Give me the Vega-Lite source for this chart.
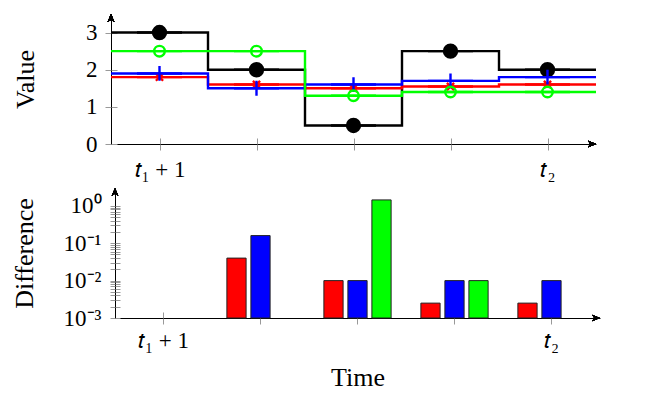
{
  "$schema": "https://vega.github.io/schema/vega-lite/v6.json",
  "padding": {"left": 11, "top": 14, "right": 0, "bottom": 0},
  "background": "white",
  "config": {
    "font": "Liberation Serif",
    "view": {"stroke": null},
    "axis": {
      "labelFont": "Liberation Serif",
      "titleFont": "Liberation Serif",
      "labelFontSize": 23,
      "titleFontSize": 26,
      "titleFontWeight": "normal",
      "labelColor": "black",
      "titleColor": "black",
      "tickColor": "#999999",
      "tickWidth": 1,
      "domainColor": "black",
      "domainWidth": 1,
      "grid": false,
      "labelOverlap": false,
      "labelFlush": false,
      "labelBound": false
    }
  },
  "datasets": {
    "lines": [
      {"t": 0.5, "series": "original", "value": 3},
      {"t": 1, "series": "original", "value": 3},
      {"t": 2, "series": "original", "value": 2},
      {"t": 3, "series": "original", "value": 0.5},
      {"t": 4, "series": "original", "value": 2.5},
      {"t": 5, "series": "original", "value": 2},
      {"t": 5.5, "series": "original", "value": 2},
      {"t": 0.5, "series": "optimal", "value": 1.8},
      {"t": 1, "series": "optimal", "value": 1.8},
      {"t": 2, "series": "optimal", "value": 1.6},
      {"t": 3, "series": "optimal", "value": 1.5},
      {"t": 4, "series": "optimal", "value": 1.55},
      {"t": 5, "series": "optimal", "value": 1.6},
      {"t": 5.5, "series": "optimal", "value": 1.6},
      {"t": 0.5, "series": "pred. 1", "value": 1.9},
      {"t": 1, "series": "pred. 1", "value": 1.9},
      {"t": 2, "series": "pred. 1", "value": 1.5},
      {"t": 3, "series": "pred. 1", "value": 1.6},
      {"t": 4, "series": "pred. 1", "value": 1.7},
      {"t": 5, "series": "pred. 1", "value": 1.8},
      {"t": 5.5, "series": "pred. 1", "value": 1.8},
      {"t": 0.5, "series": "pred. 2", "value": 2.5},
      {"t": 1, "series": "pred. 2", "value": 2.5},
      {"t": 2, "series": "pred. 2", "value": 2.5},
      {"t": 3, "series": "pred. 2", "value": 1.3},
      {"t": 4, "series": "pred. 2", "value": 1.4},
      {"t": 5, "series": "pred. 2", "value": 1.4},
      {"t": 5.5, "series": "pred. 2", "value": 1.4}
    ],
    "diff": [
      {"t": 2, "series": "optimal", "diff": 0.04},
      {"t": 2, "series": "pred. 1", "diff": 0.16},
      {"t": 3, "series": "optimal", "diff": 0.01},
      {"t": 3, "series": "pred. 1", "diff": 0.01},
      {"t": 3, "series": "pred. 2", "diff": 1.44},
      {"t": 4, "series": "optimal", "diff": 0.0025},
      {"t": 4, "series": "pred. 1", "diff": 0.01},
      {"t": 4, "series": "pred. 2", "diff": 0.01},
      {"t": 5, "series": "optimal", "diff": 0.0025},
      {"t": 5, "series": "pred. 1", "diff": 0.01}
    ]
  },
  "bounds": "flush",
  "spacing": 44,
  "vconcat": [
    {
      "width": 485,
      "height": 130,
      "data": {"name": "lines"},
      "layer": [
        {
          "mark": {"type": "line", "interpolate": "step", "strokeWidth": 2.4, "strokeCap": "butt", "strokeJoin": "miter"},
          "encoding": {
            "x": {
              "field": "t", "type": "quantitative",
              "scale": {"domain": [0.5, 5.5], "nice": false, "zero": false},
              "axis": {"orient": "bottom", "values": [1, 2, 3, 4, 5], "title": null, "tickSize": 6,
                "labelBaseline": "alphabetic", "labelPadding": 26,
                "labelExpr": "datum.value == 1 ? '𝑡₁ + 1' : datum.value == 5 ? '𝑡₂' : ''"}
            },
            "y": {
              "field": "value", "type": "quantitative",
              "scale": {"domain": [0, 3.5], "nice": false},
              "axis": {"orient": "left", "values": [0, 1, 2, 3], "title": "Value", "tickSize": 6, "labelPadding": 8,
                "titleX": -78, "titleY": 65, "titleBaseline": "alphabetic", "titleAngle": -90}
            },
            "stroke": {
              "field": "series", "type": "nominal",
              "scale": {"domain": ["original", "optimal", "pred. 1", "pred. 2"], "range": ["#000000", "#ff0000", "#0000ff", "#00ff00"]},
              "legend": null
            }
          }
        },
        {
          "transform": [{"filter": "datum.t % 1 == 0"}],
          "mark": {"type": "point", "filled": false, "size": 2025, "strokeWidth": 2.4, "opacity": 1, "strokeCap": "butt"},
          "encoding": {
            "x": {"field": "t", "type": "quantitative",
              "axis": {"orient": "bottom", "offset": -6, "values": [1, 2, 3, 4, 5], "tickSize": 6, "domain": false, "labels": false, "title": null}},
            "y": {"field": "value", "type": "quantitative",
              "axis": {"orient": "left", "offset": -6, "values": [0, 1, 2, 3], "tickSize": 6, "domain": false, "labels": false, "title": null}},
            "color": {
              "field": "series", "type": "nominal",
              "scale": {"domain": ["original", "optimal", "pred. 1", "pred. 2"], "range": ["#000000", "#ff0000", "#0000ff", "#00ff00"]},
              "legend": {"orient": "none", "legendX": 40, "legendY": -23, "direction": "horizontal", "title": null,
                "symbolSize": 2025, "symbolStrokeWidth": 2.4, "symbolOpacity": 1, "labelFont": "Liberation Serif",
                "labelFontSize": 20, "labelColor": "black", "labelOffset": 7, "columnPadding": 8, "padding": 0}
            },
            "shape": {
              "field": "series", "type": "nominal",
              "scale": {"domain": ["original", "optimal", "pred. 1", "pred. 2"], "range": [
                "M-1,0L1,0M0.289,0A0.289,0.289,0,1,1,-0.289,0A0.289,0.289,0,1,1,0.289,0ZM0.2,0A0.2,0.2,0,1,1,-0.2,0A0.2,0.2,0,1,1,0.2,0ZM0.111,0A0.111,0.111,0,1,1,-0.111,0A0.111,0.111,0,1,1,0.111,0ZM0.031,0A0.031,0.031,0,1,1,-0.031,0A0.031,0.031,0,1,1,0.031,0Z",
                "M-1,0L1,0M-0.16,-0.16L0.16,0.16M-0.16,0.16L0.16,-0.16",
                "M-1,0L1,0M0,-0.33L0,0.33",
                "M-1,0L1,0M0.235,0A0.235,0.235,0,1,1,-0.235,0A0.235,0.235,0,1,1,0.235,0Z"
              ]},
              "legend": {"orient": "none", "legendX": 40, "legendY": -23, "direction": "horizontal", "title": null,
                "symbolSize": 2025, "symbolStrokeWidth": 2.4, "symbolOpacity": 1, "labelFont": "Liberation Serif",
                "labelFontSize": 20, "labelColor": "black", "labelOffset": 7, "columnPadding": 8, "padding": 0}
            }
          }
        },
        {
          "mark": {"type": "point", "filled": true, "color": "black", "opacity": 1, "size": 256, "strokeWidth": 0,
            "shape": "M0,0L-1,-0.42L-0.72,0L-1,0.42Z"},
          "encoding": {
            "x": {"datum": 5.5, "type": "quantitative", "axis": null},
            "y": {"datum": 0, "type": "quantitative", "axis": null}
          }
        },
        {
          "mark": {"type": "point", "filled": true, "color": "black", "opacity": 1, "size": 256, "strokeWidth": 0,
            "shape": "M0,0L-0.42,1L0,0.72L0.42,1Z"},
          "encoding": {
            "x": {"datum": 0.5, "type": "quantitative", "axis": null},
            "y": {"datum": 3.5, "type": "quantitative", "axis": null}
          }
        }
      ],
      "resolve": {"axis": {"x": "independent", "y": "independent"}}
    },
    {
      "width": 489,
      "height": 130,
      "data": {"name": "diff"},
      "layer": [
        {
          "mark": {"type": "bar", "stroke": "#222222", "strokeWidth": 1},
          "encoding": {
            "x": {
              "field": "t", "type": "ordinal",
              "scale": {"domain": [1, 2, 3, 4, 5], "range": [4, 489], "paddingInner": 0, "paddingOuter": 0},
              "axis": {"orient": "bottom", "title": "Time", "tickSize": 6, "labelAngle": 0,
                "labelBaseline": "alphabetic", "labelPadding": 23, "titleBaseline": "alphabetic", "titleY": 67,
                "labelExpr": "datum.value == 1 ? '𝑡₁ + 1' : datum.value == 5 ? '𝑡₂' : ''"}
            },
            "xOffset": {
              "field": "series", "type": "nominal",
              "scale": {"domain": ["optimal", "pred. 1", "pred. 2"], "paddingInner": 0.2, "paddingOuter": 0.62}
            },
            "y": {
              "field": "diff", "type": "quantitative",
              "scale": {"type": "log", "domain": [0.001, 3], "nice": false},
              "axis": {"orient": "left", "offset": -4, "title": "Difference", "tickSize": 5, "labelPadding": 9,
                "titleX": -83, "titleY": 65, "titleBaseline": "alphabetic", "titleAngle": -90,
                "values": [0.001, 0.002, 0.003, 0.004, 0.005, 0.006, 0.007, 0.008, 0.009, 0.01, 0.02, 0.03, 0.04, 0.05, 0.06, 0.07, 0.08, 0.09, 0.1, 0.2, 0.3, 0.4, 0.5, 0.6, 0.7, 0.8, 0.9, 1],
                "labelExpr": "datum.value === 1 ? '10⁰' : datum.value === 0.1 ? '10⁻¹' : datum.value === 0.01 ? '10⁻²' : datum.value === 0.001 ? '10⁻³' : ''"}
            },
            "y2": {"datum": 0.001},
            "fill": {
              "field": "series", "type": "nominal",
              "scale": {"domain": ["optimal", "pred. 1", "pred. 2"], "range": ["#ff0000", "#0000ff", "#00ff00"]},
              "legend": null
            }
          }
        },
        {
          "mark": {"type": "point", "filled": true, "color": "black", "opacity": 1, "size": 256, "strokeWidth": 0,
            "shape": "M0,0L-1,-0.42L-0.72,0L-1,0.42Z"},
          "encoding": {
            "x": {"datum": 5, "type": "ordinal", "bandPosition": 1,
              "axis": {"orient": "bottom", "offset": -6, "tickSize": 6, "domain": false, "labels": false, "title": null}},
            "y": {"datum": 0.001, "type": "quantitative",
              "axis": {"orient": "left", "offset": -9, "tickSize": 5, "domain": false, "labels": false, "title": null,
                "values": [0.001, 0.002, 0.003, 0.004, 0.005, 0.006, 0.007, 0.008, 0.009, 0.01, 0.02, 0.03, 0.04, 0.05, 0.06, 0.07, 0.08, 0.09, 0.1, 0.2, 0.3, 0.4, 0.5, 0.6, 0.7, 0.8, 0.9, 1]}}
          }
        },
        {
          "mark": {"type": "point", "filled": true, "color": "black", "opacity": 1, "size": 256, "strokeWidth": 0,
            "shape": "M0,0L-0.42,1L0,0.72L0.42,1Z"},
          "encoding": {
            "x": {"datum": 1, "type": "ordinal", "bandPosition": 0, "axis": null},
            "y": {"datum": 3, "type": "quantitative", "axis": null}
          }
        }
      ],
      "resolve": {"axis": {"x": "independent", "y": "independent"}}
    }
  ]
}
